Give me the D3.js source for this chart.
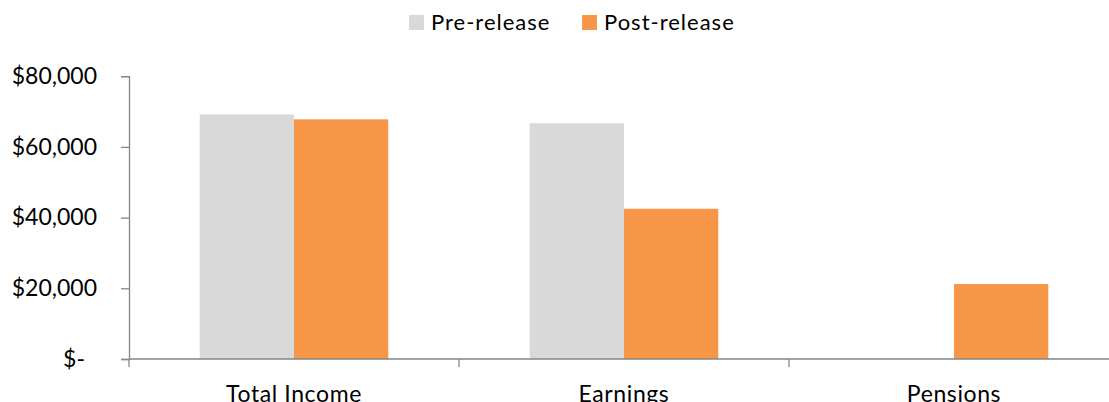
<!DOCTYPE html>
<html>
<head>
<meta charset="utf-8">
<script src="https://cdn.jsdelivr.net/npm/d3@7"></script>
<style>
  html, body { margin: 0; padding: 0; background: #fff; }
  svg { display: block; font-family: Lato, "Open Sans", sans-serif; }
</style>
</head>
<body>
<svg id="chart" width="1109" height="402"></svg>
<script>
// Average income before and after release, by source
const categories = ["Total Income", "Earnings", "Pensions"];
const seriesNames = ["Pre-release", "Post-release"];
const preRelease = [69200, 66700, 0];
const postRelease = [67800, 42500, 21200];
const yTicks = [0, 20000, 40000, 60000, 80000];
const colors = ["#D9D9D9", "#F79646"];

const svg = d3.select("#chart");
const plotLeft = 129, plotRight = 1119, plotTop = 76.2, plotBottom = 359;

const x = d3.scaleBand().domain(categories).range([plotLeft, plotRight]).paddingInner(0).paddingOuter(0);
const inner = d3.scaleBand().domain(seriesNames).range([0, x.bandwidth()]).paddingInner(0).paddingOuter(0.75);
const y = d3.scaleLinear().domain([0, 80000]).range([plotBottom, plotTop]);

const axisColor = "#868686";
const fmt = v => v === 0 ? "$-" : "$" + d3.format(",")(v);

// Bars
const rows = categories.map((c, i) => ({ cat: c, values: [preRelease[i], postRelease[i]] }));
const groups = svg.append("g").selectAll("g").data(rows).join("g")
  .attr("transform", d => `translate(${x(d.cat)},0)`);
groups.selectAll("rect")
  .data(d => d.values.map((v, j) => ({ name: seriesNames[j], value: v, j })))
  .join("rect")
  .attr("x", d => inner(d.name))
  .attr("width", inner.bandwidth())
  .attr("y", d => y(d.value))
  .attr("height", d => plotBottom - y(d.value))
  .attr("fill", d => colors[d.j]);

// Y axis (accounting format: the zero dash keeps trailing padding)
const yAxis = svg.append("g").attr("transform", `translate(${plotLeft},0)`)
  .call(d3.axisLeft(y).tickValues(yTicks).tickFormat(fmt).tickSize(8).tickPadding(24));
yAxis.select(".domain").attr("stroke", axisColor).attr("stroke-width", 1.3);
yAxis.selectAll(".tick line").attr("stroke", axisColor).attr("stroke-width", 1.3);
yAxis.selectAll(".tick text").attr("fill", "#000").attr("font-size", 23)
  .attr("font-family", "Lato, sans-serif")
  .attr("x", d => d === 0 ? -44 : -32);

// X axis
const xAxis = svg.append("g").attr("transform", `translate(0,${plotBottom})`)
  .call(d3.axisBottom(x).tickSize(0));
xAxis.select(".domain").attr("stroke", axisColor).attr("stroke-width", 1.3)
  .attr("d", `M${plotLeft},0H${plotRight}`);
xAxis.selectAll(".tick text").attr("fill", "#000").attr("font-size", 23)
  .attr("font-family", "Lato, sans-serif")
  .attr("letter-spacing", 0.6)
  .attr("y", 43).attr("dy", 0);
// Category separators
const bounds = categories.map(c => x(c)).concat([plotRight]);
xAxis.selectAll(".sep").data(bounds).join("line").attr("class", "sep")
  .attr("x1", d => d).attr("x2", d => d).attr("y1", 0).attr("y2", 8)
  .attr("stroke", axisColor).attr("stroke-width", 1.3);

// Legend
const legendItems = [
  { name: seriesNames[0], color: colors[0], x: 409 },
  { name: seriesNames[1], color: colors[1], x: 582 }
];
const lg = svg.append("g").selectAll("g").data(legendItems).join("g")
  .attr("transform", d => `translate(${d.x},15)`);
lg.append("rect").attr("width", 15).attr("height", 15).attr("fill", d => d.color);
lg.append("text").attr("x", 22).attr("y", 15).attr("font-size", 22).attr("fill", "#000")
  .attr("letter-spacing", 1)
  .text(d => d.name);
</script>
</body>
</html>
